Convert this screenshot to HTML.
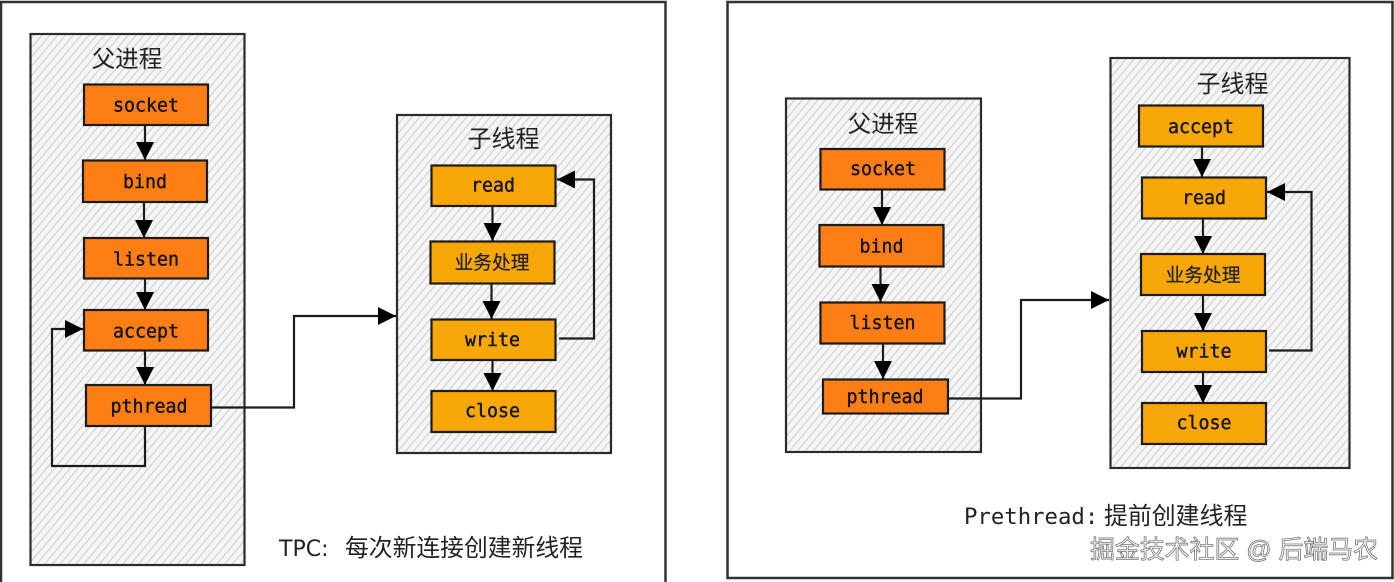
<!DOCTYPE html>
<html>
<head>
<meta charset="utf-8">
<style>
html,body{margin:0;padding:0;background:#fff;width:1394px;height:582px;overflow:hidden}
svg{display:block;filter:blur(.35px)}
.m{font-family:"DejaVu Sans Mono","Liberation Mono",monospace;font-size:18.300px;fill:#161616;text-anchor:middle;stroke:#161616;stroke-width:.45}
.c{font-family:"Liberation Sans","Noto Sans CJK SC",sans-serif;fill:#222;text-anchor:middle}
.cb{stroke:#222;stroke-width:.25}
.o{fill:#fd7e14;stroke:#1c1c1c;stroke-width:2.200}
.y{fill:#f7a707;stroke:#1c1c1c;stroke-width:2.200}
.g{fill:url(#h);stroke:#2b2b2b;stroke-width:2.200}
.l{fill:none;stroke:#1c1c1c;stroke-width:2.200}
</style>
</head>
<body>
<svg width="1394" height="582" viewBox="0 0 1394 582" xmlns="http://www.w3.org/2000/svg">
<defs>
<pattern id="h" width="6" height="6" patternUnits="userSpaceOnUse" patternTransform="rotate(-50)">
<rect width="6" height="6" fill="#f6f6f6"/>
<rect width="6" height="1.500" fill="#d8d8d8"/>
</pattern>
<marker id="a" markerUnits="userSpaceOnUse" markerWidth="20" markerHeight="20" refX="18" refY="9" orient="auto">
<path d="M0 0L18 9L0 18Z" fill="#000"/>
</marker>
</defs>

<!-- Left frame -->
<path d="M1 590V2H665.500V590" fill="#fff" stroke="#333" stroke-width="2.500"/>
<rect class="g" x="30.500" y="34" width="214" height="531"/>
<text class="c" x="127" y="67" font-size="23.500">父进程</text>
<rect class="o" x="84" y="84.500" width="124" height="40.500"/>
<text class="m" x="146" y="111.500">socket</text>
<rect class="o" x="83" y="160.500" width="124" height="41.500"/>
<text class="m" x="145" y="188">bind</text>
<rect class="o" x="84" y="238" width="124" height="40.500"/>
<text class="m" x="146" y="265.500">listen</text>
<rect class="o" x="84" y="310" width="124" height="40.500"/>
<text class="m" x="146" y="337.500">accept</text>
<rect class="o" x="86" y="385" width="125" height="41"/>
<text class="m" x="149" y="412.500">pthread</text>
<path class="l" d="M145 125V160" marker-end="url(#a)"/>
<path class="l" d="M144 202V238" marker-end="url(#a)"/>
<path class="l" d="M145 278.500V310" marker-end="url(#a)"/>
<path class="l" d="M145 350.500V385" marker-end="url(#a)"/>
<path class="l" d="M145 426V466H52V329H83" marker-end="url(#a)"/>
<path class="l" d="M212 407.500H294V316H396" marker-end="url(#a)"/>

<rect class="g" x="397" y="115" width="214" height="338"/>
<text class="c" x="503.500" y="147" font-size="24">子线程</text>
<rect class="y" x="431.500" y="165.500" width="124" height="40.500"/>
<text class="m" x="493" y="191.500">read</text>
<rect class="y" x="430.500" y="241.500" width="124" height="42"/>
<text class="c cb" x="492" y="269" font-size="18.800">业务处理</text>
<rect class="y" x="431.500" y="319.500" width="124" height="40.500"/>
<text class="m" x="492.500" y="346">write</text>
<rect class="y" x="431.500" y="391" width="124" height="41"/>
<text class="m" x="492.500" y="417">close</text>
<path class="l" d="M492.500 206V241" marker-end="url(#a)"/>
<path class="l" d="M491.500 283.500V319" marker-end="url(#a)"/>
<path class="l" d="M492.500 360V391" marker-end="url(#a)"/>
<path class="l" d="M559 338.500H594V179.500H557" marker-end="url(#a)"/>
<text x="279" y="556" font-family="'DejaVu Sans','Liberation Sans','Noto Sans CJK SC',sans-serif" font-size="22" fill="#222">TPC:<tspan x="345" font-family="'Liberation Sans','Noto Sans CJK SC',sans-serif" font-size="23.800">每次新连接创建新线程</tspan></text>

<!-- Right frame -->
<rect x="727.500" y="2" width="665" height="576" fill="#fff" stroke="#333" stroke-width="2.500"/>
<rect class="g" x="786" y="98.500" width="195" height="353.500"/>
<text class="c" x="883" y="132" font-size="23.500">父进程</text>
<rect class="o" x="820.500" y="149" width="124" height="40.500"/>
<text class="m" x="883" y="175">socket</text>
<rect class="o" x="819.500" y="225" width="124" height="41.500"/>
<text class="m" x="881.500" y="252.500">bind</text>
<rect class="o" x="820.500" y="302.500" width="124" height="41"/>
<text class="m" x="882.500" y="329">listen</text>
<rect class="o" x="823" y="379.500" width="125" height="34"/>
<text class="m" x="885" y="403">pthread</text>
<path class="l" d="M882 189.500V225" marker-end="url(#a)"/>
<path class="l" d="M880.500 266.500V302" marker-end="url(#a)"/>
<path class="l" d="M883 343.500V379" marker-end="url(#a)"/>
<path class="l" d="M949 398.500H1021V300H1109" marker-end="url(#a)"/>

<rect class="g" x="1110.500" y="58" width="239" height="410"/>
<text class="c" x="1232.500" y="92" font-size="24">子线程</text>
<rect class="y" x="1139" y="105.500" width="124" height="41"/>
<text class="m" x="1201" y="133">accept</text>
<rect class="y" x="1142" y="177.500" width="124" height="41"/>
<text class="m" x="1204" y="204">read</text>
<rect class="y" x="1141" y="254" width="124" height="41"/>
<text class="c cb" x="1203" y="281.500" font-size="18.800">业务处理</text>
<rect class="y" x="1142" y="331" width="124" height="41"/>
<text class="m" x="1204" y="357.500">write</text>
<rect class="y" x="1142" y="403" width="124" height="41"/>
<text class="m" x="1204" y="429">close</text>
<path class="l" d="M1202 146.500V177" marker-end="url(#a)"/>
<path class="l" d="M1203 218.500V254" marker-end="url(#a)"/>
<path class="l" d="M1203 295V331" marker-end="url(#a)"/>
<path class="l" d="M1203 372V403" marker-end="url(#a)"/>
<path class="l" d="M1269 350.500H1311.500V192H1267" marker-end="url(#a)"/>
<text x="964" y="524" font-family="'DejaVu Sans Mono','Liberation Mono',monospace" font-size="22.300" fill="#222">Prethread:<tspan x="1104" font-family="'Liberation Sans','Noto Sans CJK SC',sans-serif" font-size="23.900">提前创建线程</tspan></text>

<!-- Watermark -->
<text x="1090" y="558" font-family="'Liberation Sans','Noto Sans CJK SC',sans-serif" font-size="24.900" fill="#fff" stroke="#777" stroke-width=".8">掘金技术社区 @ 后端马农</text>
</svg>
</body>
</html>
